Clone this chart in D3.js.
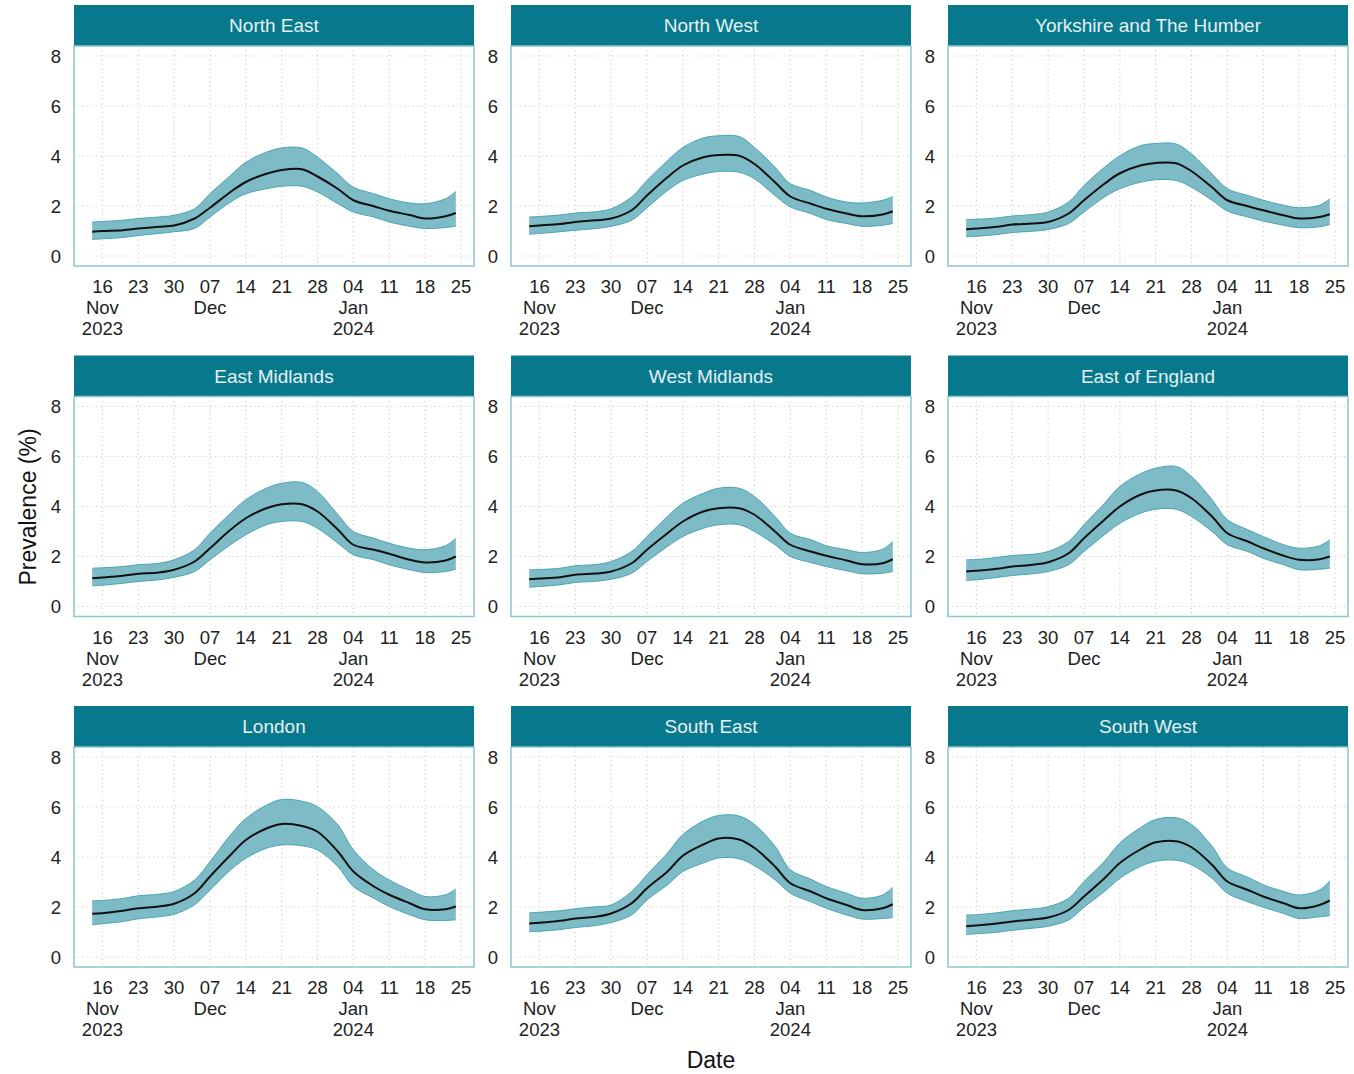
<!DOCTYPE html>
<html>
<head>
<meta charset="utf-8">
<script src="https://cdn.jsdelivr.net/npm/d3@7"></script>
<style>
    html, body { margin: 0; padding: 0; background: #fff; }
    svg { display: block; font-family: "Liberation Sans", Arial, sans-serif; }
</style>
</head>
<body>
<svg id="chart" width="1354" height="1074"></svg>
<script>
(function () {
    "use strict";

    // sample dates (UTC) shared by every region
    var dates = ["2023-11-14", "2023-11-16", "2023-11-20", "2023-11-23", "2023-11-27", "2023-11-30",
        "2023-12-04", "2023-12-07", "2023-12-11", "2023-12-14", "2023-12-18", "2023-12-21",
        "2023-12-25", "2023-12-28", "2024-01-01", "2024-01-04", "2024-01-08", "2024-01-11",
        "2024-01-15", "2024-01-18", "2024-01-22", "2024-01-24"];

    var tickDates = ["2023-11-16", "2023-11-23", "2023-11-30", "2023-12-07", "2023-12-14", "2023-12-21",
        "2023-12-28", "2024-01-04", "2024-01-11", "2024-01-18", "2024-01-25"];
    var yTicks = [0, 2, 4, 6, 8];

    var regions = ["North East", "North West", "Yorkshire and The Humber",
        "East Midlands", "West Midlands", "East of England",
        "London", "South East", "South West"];

    var northEastMid = [0.97, 1.00, 1.03, 1.10, 1.17, 1.22, 1.50, 1.93, 2.56, 2.96, 3.29, 3.44, 3.47, 3.18, 2.68, 2.23, 1.99, 1.81, 1.64, 1.50, 1.59, 1.72];
    var northEastHi = [1.36, 1.38, 1.43, 1.50, 1.56, 1.63, 1.89, 2.49, 3.22, 3.75, 4.15, 4.32, 4.32, 3.95, 3.28, 2.75, 2.49, 2.29, 2.12, 2.09, 2.29, 2.58];
    var northEastLo = [0.66, 0.69, 0.74, 0.82, 0.90, 0.97, 1.10, 1.56, 2.16, 2.49, 2.69, 2.79, 2.79, 2.56, 2.09, 1.76, 1.56, 1.36, 1.19, 1.10, 1.14, 1.19];

    var northWestMid = [1.19, 1.22, 1.28, 1.36, 1.43, 1.50, 1.83, 2.42, 3.15, 3.62, 3.95, 4.04, 4.01, 3.68, 2.95, 2.38, 2.09, 1.89, 1.70, 1.59, 1.66, 1.79];
    var northWestHi = [1.56, 1.58, 1.64, 1.72, 1.77, 1.89, 2.36, 3.02, 3.81, 4.34, 4.72, 4.81, 4.78, 4.34, 3.55, 2.89, 2.62, 2.36, 2.16, 2.12, 2.23, 2.38];
    var northWestLo = [0.87, 0.90, 0.97, 1.03, 1.10, 1.19, 1.43, 1.93, 2.62, 3.02, 3.28, 3.38, 3.35, 3.09, 2.42, 1.96, 1.70, 1.46, 1.30, 1.19, 1.23, 1.30];

    var yorkshireMid = [1.07, 1.10, 1.17, 1.26, 1.30, 1.36, 1.70, 2.23, 2.89, 3.31, 3.62, 3.72, 3.71, 3.39, 2.75, 2.23, 1.99, 1.83, 1.63, 1.50, 1.56, 1.67];
    var yorkshireHi = [1.46, 1.47, 1.52, 1.60, 1.66, 1.76, 2.16, 2.82, 3.55, 4.01, 4.41, 4.50, 4.48, 4.08, 3.28, 2.69, 2.42, 2.23, 2.03, 1.93, 2.03, 2.29];
    var yorkshireLo = [0.77, 0.79, 0.86, 0.94, 0.99, 1.06, 1.30, 1.76, 2.36, 2.69, 2.95, 3.05, 3.02, 2.75, 2.23, 1.80, 1.56, 1.40, 1.23, 1.13, 1.17, 1.26];

    var eastMidlandsMid = [1.13, 1.16, 1.23, 1.31, 1.36, 1.47, 1.80, 2.33, 3.07, 3.53, 3.93, 4.09, 4.09, 3.80, 3.07, 2.47, 2.27, 2.11, 1.87, 1.76, 1.84, 2.00];
    var eastMidlandsHi = [1.53, 1.55, 1.60, 1.67, 1.73, 1.87, 2.27, 2.93, 3.73, 4.27, 4.73, 4.93, 4.96, 4.60, 3.67, 3.00, 2.73, 2.53, 2.33, 2.27, 2.43, 2.73];
    var eastMidlandsLo = [0.83, 0.85, 0.93, 1.00, 1.07, 1.17, 1.40, 1.87, 2.47, 2.87, 3.27, 3.40, 3.40, 3.13, 2.53, 2.07, 1.87, 1.67, 1.47, 1.36, 1.40, 1.49];

    var westMidlandsMid = [1.09, 1.12, 1.17, 1.27, 1.32, 1.40, 1.73, 2.27, 2.93, 3.40, 3.80, 3.93, 3.93, 3.67, 3.00, 2.47, 2.20, 2.03, 1.84, 1.69, 1.73, 1.89];
    var westMidlandsHi = [1.47, 1.48, 1.53, 1.63, 1.68, 1.80, 2.20, 2.80, 3.60, 4.13, 4.53, 4.73, 4.73, 4.40, 3.60, 2.93, 2.67, 2.43, 2.27, 2.16, 2.29, 2.60];
    var westMidlandsLo = [0.77, 0.80, 0.87, 0.96, 1.01, 1.09, 1.33, 1.80, 2.40, 2.80, 3.13, 3.27, 3.27, 3.00, 2.47, 2.00, 1.76, 1.60, 1.43, 1.31, 1.33, 1.40];

    var eastEnglandMid = [1.40, 1.43, 1.51, 1.60, 1.67, 1.77, 2.13, 2.73, 3.47, 4.00, 4.47, 4.64, 4.64, 4.33, 3.60, 2.93, 2.60, 2.33, 2.03, 1.87, 1.89, 2.00];
    var eastEnglandHi = [1.87, 1.88, 1.96, 2.04, 2.09, 2.20, 2.60, 3.27, 4.13, 4.80, 5.31, 5.53, 5.60, 5.20, 4.27, 3.47, 3.07, 2.80, 2.47, 2.33, 2.43, 2.67];
    var eastEnglandLo = [1.04, 1.07, 1.16, 1.24, 1.31, 1.40, 1.67, 2.20, 2.87, 3.33, 3.73, 3.89, 3.89, 3.60, 3.00, 2.47, 2.20, 1.93, 1.67, 1.47, 1.49, 1.53];

    var londonMid = [1.73, 1.75, 1.85, 1.95, 2.02, 2.13, 2.55, 3.22, 4.08, 4.68, 5.14, 5.32, 5.24, 5.01, 4.21, 3.42, 2.82, 2.49, 2.15, 1.91, 1.91, 2.02];
    var londonHi = [2.25, 2.26, 2.34, 2.45, 2.51, 2.62, 3.08, 3.81, 4.88, 5.54, 6.07, 6.30, 6.23, 6.01, 5.28, 4.28, 3.48, 3.08, 2.68, 2.42, 2.49, 2.72];
    var londonLo = [1.29, 1.33, 1.42, 1.53, 1.61, 1.71, 2.09, 2.68, 3.48, 3.95, 4.35, 4.48, 4.45, 4.28, 3.61, 2.82, 2.35, 2.02, 1.69, 1.49, 1.46, 1.49];

    var southEastMid = [1.34, 1.37, 1.45, 1.54, 1.61, 1.74, 2.15, 2.75, 3.42, 4.05, 4.50, 4.74, 4.70, 4.36, 3.62, 2.95, 2.62, 2.35, 2.08, 1.88, 1.95, 2.11];
    var southEastHi = [1.77, 1.79, 1.85, 1.93, 2.01, 2.08, 2.62, 3.29, 4.16, 4.90, 5.44, 5.66, 5.64, 5.30, 4.43, 3.49, 3.11, 2.82, 2.55, 2.35, 2.48, 2.79];
    var southEastLo = [1.01, 1.03, 1.10, 1.18, 1.26, 1.38, 1.68, 2.28, 2.89, 3.42, 3.76, 3.96, 3.93, 3.65, 3.09, 2.55, 2.21, 1.95, 1.68, 1.52, 1.54, 1.58];

    var southWestMid = [1.23, 1.26, 1.34, 1.42, 1.50, 1.58, 1.88, 2.42, 3.15, 3.76, 4.30, 4.59, 4.63, 4.39, 3.69, 3.02, 2.68, 2.42, 2.15, 1.95, 2.08, 2.26];
    var southWestHi = [1.68, 1.69, 1.77, 1.85, 1.92, 2.01, 2.35, 3.02, 3.83, 4.56, 5.17, 5.50, 5.57, 5.30, 4.43, 3.56, 3.19, 2.89, 2.62, 2.48, 2.68, 3.05];
    var southWestLo = [0.90, 0.93, 0.99, 1.07, 1.15, 1.23, 1.48, 1.99, 2.62, 3.15, 3.62, 3.83, 3.87, 3.69, 3.15, 2.55, 2.21, 1.99, 1.74, 1.54, 1.61, 1.65];

    var series = [
        [northEastMid, northEastLo, northEastHi],
        [northWestMid, northWestLo, northWestHi],
        [yorkshireMid, yorkshireLo, yorkshireHi],
        [eastMidlandsMid, eastMidlandsLo, eastMidlandsHi],
        [westMidlandsMid, westMidlandsLo, westMidlandsHi],
        [eastEnglandMid, eastEnglandLo, eastEnglandHi],
        [londonMid, londonLo, londonHi],
        [southEastMid, southEastLo, southEastHi],
        [southWestMid, southWestLo, southWestHi]
    ];

    var parse = d3.utcParse("%Y-%m-%d");
    var fmtDay = d3.utcFormat("%d");

    var svg = d3.select("#chart");

    var panelW = 400;
    var stripH = 41;
    var plotH = 220;
    var colX = [74, 511, 948];
    var rowY = [5, 355.5, 706];

    var first = parse(dates[0]);
    var last = parse(dates[dates.length - 1]);
    var pad = (last - first) * 0.05;

    var x = d3.scaleUtc()
        .domain([new Date(+first - pad), new Date(+last + pad)])
        .range([0, panelW]);
    var y = d3.scaleLinear()
        .domain([-0.4, 8.4])
        .range([plotH, 0]);

    var curve = d3.curveCatmullRom.alpha(0.5);

    var area = d3.area()
        .curve(curve)
        .x(function (d) { return x(d.date); })
        .y0(function (d) { return y(d.lo); })
        .y1(function (d) { return y(d.hi); });
    var line = d3.line()
        .curve(curve)
        .x(function (d) { return x(d.date); });

    var ticks = tickDates.map(parse);

    var monthLabel = function (d, i) {
        // label_date_short style: show month (and year) on first tick of each month
        var prev = i > 0 ? ticks[i - 1] : null;
        var lines = [fmtDay(d)];
        if(!prev || prev.getUTCMonth() !== d.getUTCMonth()) {
            lines.push(d3.utcFormat("%b")(d));
            if(!prev || prev.getUTCFullYear() !== d.getUTCFullYear()) {
                lines.push(d3.utcFormat("%Y")(d));
            }
        }
        return lines;
    };

    var drawPanel = function (idx) {
        var col = idx % 3;
        var row = Math.floor(idx / 3);
        var s = series[idx];
        var rows = dates.map(function (d, i) {
            return { date: parse(d), mid: s[0][i], lo: s[1][i], hi: s[2][i] };
        });

        var g = svg.append("g")
            .attr("transform", "translate(" + colX[col] + "," + rowY[row] + ")");

        // strip
        g.append("rect")
            .attr("x", 0).attr("y", 0)
            .attr("width", panelW).attr("height", stripH)
            .attr("fill", "#08798d");
        g.append("text")
            .attr("x", panelW / 2).attr("y", stripH / 2)
            .attr("dy", "0.36em")
            .attr("text-anchor", "middle")
            .attr("fill", "#e4f0f2")
            .style("font-size", "19px")
            .text(regions[idx]);

        var p = g.append("g").attr("transform", "translate(0," + stripH + ")");

        // grid
        p.selectAll(".gy").data(yTicks).enter().append("line")
            .attr("x1", 0).attr("x2", panelW)
            .attr("y1", function (d) { return y(d); })
            .attr("y2", function (d) { return y(d); })
            .attr("stroke", "#cfcfcf")
            .attr("stroke-width", 1.2)
            .attr("stroke-dasharray", "1.2,3.2");
        p.selectAll(".gx").data(ticks).enter().append("line")
            .attr("y1", 0).attr("y2", plotH)
            .attr("x1", function (d) { return x(d); })
            .attr("x2", function (d) { return x(d); })
            .attr("stroke", "#cfcfcf")
            .attr("stroke-width", 1.2)
            .attr("stroke-dasharray", "1.2,3.2");

        // ribbon
        p.append("path")
            .datum(rows)
            .attr("d", area)
            .attr("fill", "#7dbcc7")
            .attr("stroke", "none");
        p.append("path")
            .datum(rows)
            .attr("d", line.y(function (d) { return y(d.hi); }))
            .attr("fill", "none")
            .attr("stroke", "#4aa3b3")
            .attr("stroke-width", 1);
        p.append("path")
            .datum(rows)
            .attr("d", line.y(function (d) { return y(d.lo); }))
            .attr("fill", "none")
            .attr("stroke", "#4aa3b3")
            .attr("stroke-width", 1);
        p.append("path")
            .datum(rows)
            .attr("d", line.y(function (d) { return y(d.mid); }))
            .attr("fill", "none")
            .attr("stroke", "#111")
            .attr("stroke-width", 2);

        // panel border
        p.append("rect")
            .attr("x", 0).attr("y", 0)
            .attr("width", panelW).attr("height", plotH)
            .attr("fill", "none")
            .attr("stroke", "#8cc6d0")
            .attr("stroke-width", 1.5);

        // y tick labels
        p.selectAll(".yl").data(yTicks).enter().append("text")
            .attr("x", -13)
            .attr("y", function (d) { return y(d); })
            .attr("dy", "0.36em")
            .attr("text-anchor", "end")
            .attr("fill", "#222")
            .style("font-size", "18.5px")
            .text(function (d) { return d; });

        // x tick labels
        ticks.forEach(function (d, i) {
            var t = p.append("text")
                .attr("text-anchor", "middle")
                .attr("fill", "#222")
                .style("font-size", "18.5px");
            monthLabel(d, i).forEach(function (txt, k) {
                t.append("tspan")
                    .attr("x", x(d))
                    .attr("y", plotH + 27 + k * 21)
                    .text(txt);
            });
        });
    };

    regions.forEach(function (r, i) {
        drawPanel(i);
    });

    // axis titles
    svg.append("text")
        .attr("x", 711)
        .attr("y", 1068)
        .attr("text-anchor", "middle")
        .attr("fill", "#111")
        .style("font-size", "23px")
        .text("Date");
    svg.append("text")
        .attr("transform", "translate(36,507) rotate(-90)")
        .attr("text-anchor", "middle")
        .attr("fill", "#111")
        .style("font-size", "23px")
        .text("Prevalence (%)");
})();
</script>
</body>
</html>
